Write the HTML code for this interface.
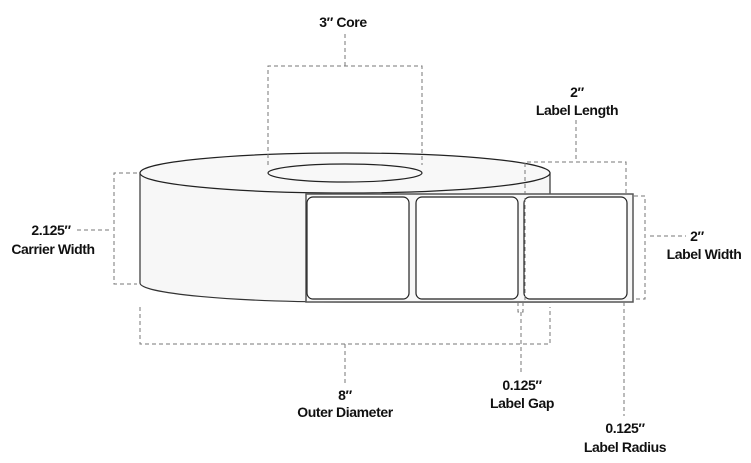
<!DOCTYPE html>
<html><head><meta charset="utf-8"><style>
html,body{margin:0;padding:0;background:#fff;}
svg{display:block;}
text{font-family:"Liberation Sans",sans-serif;font-weight:bold;font-size:14px;fill:#111;text-anchor:middle;letter-spacing:-0.4px;}
</style></head><body>
<svg width="751" height="463" viewBox="0 0 751 463" xmlns="http://www.w3.org/2000/svg">
<!-- roll -->
<path d="M140,173 L140,283 A206,19 0 0 0 346,302 L550,302 L550,173 Z" fill="#f7f7f7" stroke="#333" stroke-width="1.2"/>
<ellipse cx="345" cy="173" rx="205" ry="20" fill="#f8f8f8" stroke="#222" stroke-width="1.2"/>
<ellipse cx="345" cy="173" rx="77" ry="9" fill="#f8f8f8" stroke="#222" stroke-width="1.2"/>
<!-- liner strip -->
<rect x="306" y="194" width="327" height="108" fill="#f7f7f7" stroke="#555" stroke-width="1.5"/>
<rect x="307" y="197" width="102" height="102" rx="6" fill="#fff" stroke="#222" stroke-width="1.2"/>
<rect x="416" y="197" width="102" height="102" rx="6" fill="#fff" stroke="#222" stroke-width="1.2"/>
<rect x="524" y="197" width="103" height="102" rx="6" fill="#fff" stroke="#222" stroke-width="1.2"/>
<!-- dashed dims -->
<g fill="none" stroke="#777" stroke-width="1" stroke-dasharray="4,3">
<path d="M345,34 V66 M268,165 V66 H422 V165"/>
<path d="M576,120 V162 M525,300 V162 H626 V194"/>
<path d="M137,173 H114 V284 H137 M77,230 H112"/>
<path d="M634,196 H645 V299 H634 M650,236 H686"/>
<path d="M140,307 V344 H550 V307 M345,344 V385"/>
<path d="M518,302 V312 H523 V302 M521,312 V372"/>
<path d="M624,302 V416"/>
</g>
<text x="343" y="27">3″ Core</text>
<text x="577" y="97">2″</text>
<text x="577" y="115">Label Length</text>
<text x="51" y="235">2.125″</text>
<text x="53" y="254">Carrier Width</text>
<text x="697" y="241">2″</text>
<text x="704" y="259">Label Width</text>
<text x="345" y="400">8″</text>
<text x="345" y="417">Outer Diameter</text>
<text x="522" y="390">0.125″</text>
<text x="522" y="408">Label Gap</text>
<text x="625" y="433">0.125″</text>
<text x="625" y="452">Label Radius</text>
</svg>
</body></html>
